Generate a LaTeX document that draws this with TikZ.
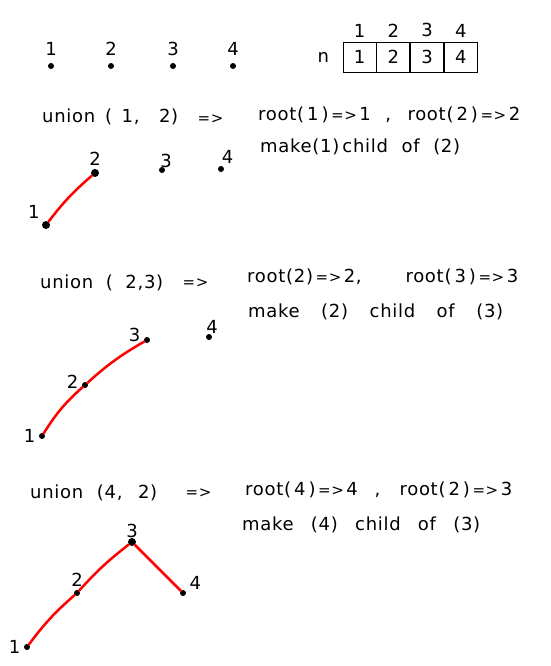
\documentclass[tikz,border=0pt]{standalone}
\usepackage{fontspec}
\setsansfont{DejaVu Sans}[LetterSpace=4]
\usepackage{tikz}
\usetikzlibrary{positioning}

\newcommand{\gives}{{\fontsize{15}{17}\selectfont\,=>\,}}
\newcommand{\spread}[2]{\makebox[#1][s]{#2}}

\begin{document}
\begin{tikzpicture}[
    x=1pt, y=-1pt,
    every node/.style={font=\sffamily\fontsize{18}{20}\selectfont},
    dot/.style={circle, fill=black, inner sep=0pt, minimum size=6pt},
    bigdot/.style={dot, minimum size=8pt},
    cell/.style={draw, thick, minimum width=33pt, minimum height=30pt, inner sep=0pt},
    edge/.style={red, line width=2.5pt, line cap=round},
    txt/.style={anchor=west, inner sep=0pt}
]
    \useasboundingbox (0,0) rectangle (550,666);

    % Start: four single nodes
    \foreach \i/\x in {1/51, 2/111, 3/173, 4/233} {
        \node[dot, label={[label distance=4pt]above:\i}] (p\i) at (\x,66) {};
    }

    % Array n
    \node[cell] (c1) at (359.5,57) {1};
    \node[cell, right=0pt of c1] (c2) {2};
    \node[cell, right=0pt of c2] (c3) {3};
    \node[cell, right=0pt of c3] (c4) {4};
    \node[left=10pt of c1] (n) {n};
    \foreach \i in {1,...,4} {
        \node[above=1pt of c\i] (i\i) {\i};
    }

    % Union(1,2)
    \node[txt] (u1) at (42,117) {\spread{136pt}{union (\ 1,\ \ 2)}};
    \node[txt] (a1) at (195,119) {\gives};
    \node[txt] (r1) at (258,115) {\spread{262pt}{root(\,1\,)\gives1 , root(\,2\,)\gives 2}};
    \node[txt] (m1) at (260,147) {\spread{200pt}{make(1)\,child of (2)}};

    \node[bigdot, label={above left:1}] (q1) at (46,225) {};
    \node[bigdot, label={above:2}] (q2) at (95,173) {};
    \node[dot, label={[xshift=4pt, label distance=-4pt]above:3}] (q3) at (162,170) {};
    \node[dot, label={[xshift=-5pt]above right:4}] (q4) at (221,169) {};
    \draw[edge] (q1) to[bend left=6] (q2);

    % Union(2,3)
    \node[txt] (u2) at (40,283) {\spread{123pt}{union ( 2,3)}};
    \node[txt] (a2) at (180,283) {\gives};
    \node[txt] (r2) at (247,277) {\spread{271pt}{root(2)\gives2, root(\,3\,)\gives 3}};
    \node[txt] (m2) at (248,312) {\spread{255pt}{make (2) child of (3)}};

    \node[dot, label={left:1}] (s1) at (42,436) {};
    \node[dot, label={[yshift=3pt]left:2}] (s2) at (85,385) {};
    \node[dot, label={[yshift=5pt]left:3}] (s3) at (147,340) {};
    \node[dot, label={[xshift=3pt, label distance=-3pt]above:4}] (s4) at (209,337) {};
    \draw[edge] (s1) to[bend left=8] (s2);
    \draw[edge] (s2) to[bend left=6] (s3);

    % Union(4,2)
    \node[txt] (u3) at (30,493) {\spread{127pt}{union (4, 2)}};
    \node[txt] (a3) at (183,493) {\gives};
    \node[txt] (r3) at (245,490) {\spread{267pt}{root(\,4\,)\gives 4 , root(\,2\,)\gives3}};
    \node[txt] (m3) at (242,525) {\spread{238pt}{make (4) child of (3)}};

    \node[dot, label={left:1}] (t1) at (27,647) {};
    \node[dot, label={above:2}] (t2) at (77,593) {};
    \node[bigdot, label={[label distance=-3pt]above:3}] (t3) at (132,542) {};
    \node[dot, label={[yshift=10pt]right:4}] (t4) at (183,593) {};
    \draw[edge] (t1) to[bend left=6] (t2);
    \draw[edge] (t2) to[bend left=5] (t3);
    \draw[edge] (t3) -- (t4);
\end{tikzpicture}
\end{document}
